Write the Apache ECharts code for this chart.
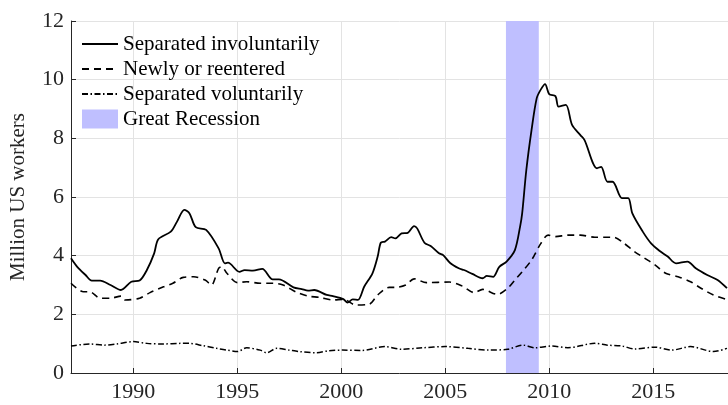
<!DOCTYPE html>
<html><head><meta charset="utf-8">
<script src="https://cdn.jsdelivr.net/npm/echarts@6/dist/echarts.min.js"></script>
<style>html,body{margin:0;padding:0;background:#fff}#c{width:728px;height:405px}</style>
</head><body><div id="c"></div>
<script>
const xTickLabels = [1990, 1995, 2000, 2005, 2010, 2015];
const seriesNames = ['Separated involuntarily', 'Newly or reentered', 'Separated voluntarily', 'Great Recession'];
const recession = [2007.92, 2009.5];
const involuntary = [
 [1987.0,3.91],[1987.3,3.62],[1987.7,3.34],[1988.0,3.15],[1988.4,3.15],[1988.9,3.0],[1989.4,2.83],[1989.9,3.11],
 [1990.3,3.15],[1990.65,3.51],[1991.0,4.08],[1991.2,4.56],[1991.8,4.82],[1992.1,5.16],[1992.45,5.56],[1992.7,5.44],
 [1993.0,4.97],[1993.5,4.88],[1994.1,4.25],[1994.4,3.74],[1994.55,3.76],[1995.1,3.45],[1995.35,3.51],[1995.75,3.49],
 [1996.2,3.55],[1996.7,3.19],[1997.0,3.19],[1997.7,2.92],[1998.1,2.86],[1998.4,2.81],[1998.7,2.83],[1999.3,2.66],
 [1999.6,2.62],[2000.1,2.52],[2000.3,2.40],[2000.55,2.51],[2000.8,2.49],[2001.1,2.94],[2001.5,3.40],[2001.75,3.97],
 [2001.9,4.44],[2002.1,4.48],[2002.4,4.63],[2002.6,4.59],[2002.9,4.76],[2003.2,4.78],[2003.5,5.01],[2003.65,4.93],
 [2004.0,4.44],[2004.3,4.33],[2004.7,4.08],[2004.9,4.02],[2005.25,3.74],[2005.65,3.57],[2005.9,3.51],[2006.3,3.38],
 [2006.8,3.23],[2007.0,3.31],[2007.3,3.28],[2007.6,3.62],[2007.95,3.80],[2008.35,4.19],[2008.6,4.99],[2008.7,5.44],
 [2008.9,6.92],[2009.15,8.28],[2009.4,9.37],[2009.6,9.67],[2009.8,9.85],[2010.0,9.51],[2010.3,9.44],[2010.45,9.08],
 [2010.8,9.14],[2011.1,8.46],[2011.5,8.11],[2011.7,7.94],[2012.3,6.98],[2012.5,7.03],[2012.8,6.52],[2013.05,6.52],
 [2013.5,5.96],[2013.8,5.96],[2014.0,5.44],[2014.5,4.82],[2014.9,4.42],[2015.3,4.17],[2015.7,3.97],[2016.1,3.74],
 [2016.65,3.80],[2017.05,3.57],[2017.6,3.34],[2018.1,3.17],[2018.55,2.89]
];
const newlyReentered = [
 [1987.0,3.06],[1987.6,2.77],[1987.9,2.77],[1988.4,2.55],[1988.9,2.55],[1989.4,2.62],[1989.6,2.49],[1990.3,2.55],
 [1990.8,2.74],[1991.45,2.94],[1991.9,3.06],[1992.4,3.26],[1992.9,3.28],[1993.45,3.17],[1993.75,3.0],[1994.1,3.57],
 [1994.25,3.62],[1994.5,3.40],[1995.0,3.08],[1995.45,3.11],[1996.1,3.06],[1996.7,3.06],[1997.2,3.0],[1997.8,2.77],
 [1998.4,2.62],[1998.95,2.58],[1999.6,2.49],[2000.1,2.51],[2000.7,2.32],[2001.35,2.35],[2001.75,2.66],[2002.3,2.92],
 [2002.6,2.92],[2003.1,3.0],[2003.5,3.21],[2004.1,3.08],[2005.2,3.10],[2005.8,2.97],[2006.4,2.74],[2006.8,2.85],
 [2007.5,2.68],[2008.0,2.89],[2008.35,3.17],[2008.7,3.45],[2009.15,3.85],[2009.6,4.42],[2009.95,4.70],[2010.3,4.65],
 [2010.9,4.70],[2011.5,4.70],[2012.2,4.63],[2012.8,4.63],[2013.1,4.63],[2013.6,4.42],[2014.1,4.14],[2014.6,3.91],
 [2015.1,3.68],[2015.6,3.40],[2016.2,3.28],[2016.8,3.11],[2017.3,2.89],[2017.9,2.66],[2018.5,2.51]
];
const voluntary = [
 [1987.0,0.92],[1987.9,0.99],[1988.6,0.95],[1989.2,0.99],[1990.0,1.07],[1990.65,1.01],[1991.45,0.99],[1992.25,1.01],
 [1992.7,1.01],[1993.35,0.93],[1994.0,0.84],[1994.5,0.78],[1995.0,0.73],[1995.45,0.86],[1996.1,0.78],[1996.4,0.69],
 [1996.9,0.84],[1997.5,0.78],[1998.0,0.73],[1998.8,0.69],[1999.4,0.76],[2000.05,0.78],[2001.0,0.77],[2002.1,0.90],
 [2002.9,0.81],[2003.9,0.86],[2005.0,0.90],[2006.1,0.84],[2007.1,0.78],[2008.0,0.81],[2008.75,0.95],[2009.3,0.86],
 [2010.1,0.92],[2010.9,0.86],[2012.2,1.01],[2012.8,0.95],[2013.5,0.92],[2014.1,0.82],[2015.1,0.88],[2015.9,0.78],
 [2016.8,0.90],[2017.9,0.73],[2018.55,0.84]
];

const FONT = 'Liberation Serif';
const TXT = '#262626';
const chart = echarts.init(document.getElementById('c'), null, {renderer: 'canvas'});
chart.setOption({
  animation: false,
  backgroundColor: '#fff',
  textStyle: {fontFamily: FONT},
  grid: {left: 67, top: 21, right: 0, bottom: 32, containLabel: false},
  legend: {
    left: 81, top: 33, orient: 'vertical', itemWidth: 36, itemHeight: 19, itemGap: 3, padding: 0,
    itemStyle: {opacity: 0},
    textStyle: {fontFamily: FONT, fontSize: 21, lineHeight: 22, color: '#000'},
    data: [
      {name: seriesNames[0]}, {name: seriesNames[1]}, {name: seriesNames[2]},
      {name: seriesNames[3], icon: 'rect', itemStyle: {color: '#bfbfff', opacity: 1}}
    ]
  },
  xAxis: {
    type: 'value', min: 1987, max: 2018.6,
    axisLine: {show: true, lineStyle: {color: '#262626', width: 1}},
    axisTick: {show: true, inside: true, length: 5, customValues: xTickLabels, lineStyle: {color: '#262626'}},
    axisLabel: {customValues: xTickLabels, fontFamily: FONT, fontSize: 22, color: TXT, margin: 8, formatter: v => String(v)},
    splitLine: {show: true, customValues: xTickLabels, lineStyle: {color: '#e3e3e3', width: 1}}
  },
  yAxis: {
    type: 'value', min: 0, max: 12, interval: 2,
    name: 'Million US workers', nameLocation: 'middle', nameGap: 42,
    nameTextStyle: {fontFamily: FONT, fontSize: 21, color: TXT},
    axisLine: {show: true, lineStyle: {color: '#262626', width: 1}},
    axisTick: {show: true, inside: true, length: 5, lineStyle: {color: '#262626'}},
    axisLabel: {fontFamily: FONT, fontSize: 22, color: TXT, margin: 7},
    splitLine: {show: true, lineStyle: {color: '#e3e3e3', width: 1}}
  },
  series: [
    {
      name: seriesNames[3], type: 'line', data: [], color: '#bfbfff', z: 1,
      markArea: {silent: true, itemStyle: {color: '#bfbfff', opacity: 1},
        data: [[{xAxis: recession[0]}, {xAxis: recession[1]}]]}
    },
    {
      name: seriesNames[0], type: 'line', data: involuntary, showSymbol: false, symbol: 'none', smooth: 0.3, z: 3,
      color: '#000', lineStyle: {color: '#000', width: 1.8, type: 'solid'}
    },
    {
      name: seriesNames[1], type: 'line', data: newlyReentered, showSymbol: false, symbol: 'none', smooth: 0.3, z: 3,
      color: '#000', lineStyle: {color: '#000', width: 1.6, type: [7, 5]}
    },
    {
      name: seriesNames[2], type: 'line', data: voluntary, showSymbol: false, symbol: 'none', smooth: 0.3, z: 3,
      color: '#000', lineStyle: {color: '#000', width: 1.5, type: [6, 2.5, 1.5, 2.5]}
    }
  ]
});
</script></body></html>
